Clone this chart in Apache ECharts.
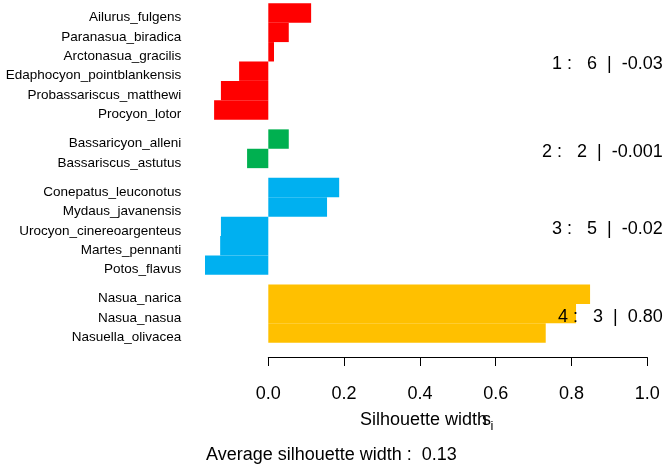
<!DOCTYPE html>
<html><head><meta charset="utf-8">
<script src="https://cdn.jsdelivr.net/npm/echarts/dist/echarts.min.js"></script>
<style>html,body{margin:0;padding:0;background:#fff}#c{width:664px;height:468px}</style>
</head><body><div id="c"></div>
<script>
// ---- data ----
const names = ["Ailurus_fulgens","Paranasua_biradica","Arctonasua_gracilis","Edaphocyon_pointblankensis","Probassariscus_matthewi","Procyon_lotor",
  "Bassaricyon_alleni","Bassariscus_astutus",
  "Conepatus_leuconotus","Mydaus_javanensis","Urocyon_cinereoargenteus","Martes_pennanti","Potos_flavus",
  "Nasua_narica","Nasua_nasua","Nasuella_olivacea"];
const clusterOf = [1,1,1,1,1,1, 2,2, 3,3,3,3,3, 4,4,4];
const silWidths = [0.113,0.054,0.015,-0.077,-0.125,-0.143, 0.054,-0.056, 0.187,0.155,-0.125,-0.127,-0.167, 0.849,0.812,0.732];
const clusterIds = [1,2,3,4];
const clusterSizes = [6,2,5,3];
const clusterAvgLabels = ["-0.03","-0.001","-0.02","0.80"];
const clusterColors = ["#FF0000","#00B050","#00B0F0","#FFC000"];
const xTicks = ["0.0","0.2","0.4","0.6","0.8","1.0"];
const avgSilhouette = "0.13";

const FONT = "'Liberation Sans', Arial, sans-serif";

// bar slot positions: one unit per bar, half-unit gap between clusters
const barData = [];
let prev = null, gapCount = 0;
silWidths.forEach((v, i) => {
  if (prev !== null && clusterOf[i] !== prev) gapCount++;
  prev = clusterOf[i];
  barData.push([v, i + 0.5 * gapCount, clusterOf[i] - 1, names[i]]);
});
const totalSpan = silWidths.length + 0.5 * (clusterIds.length - 1);
const clusterData = clusterIds.map((c, j) => {
  const rows = barData.filter(d => d[2] === j);
  const center = (rows[0][1] + rows[rows.length - 1][1] + 1) / 2;
  return [j, center];
});
const minW = Math.min(0, Math.min(...silWidths));
const plotLeftVal = minW - 0.04 * (1 - minW);

const chart = echarts.init(document.getElementById('c'), null, {renderer: 'canvas'});
chart.setOption({
  animation: false,
  backgroundColor: '#fff',
  grid: {left: 268.3, right: 16.7, top: 3.3, height: 339.4},
  xAxis: {
    type: 'value', min: 0, max: 1, interval: 0.2, position: 'bottom', offset: 14.6,
    axisLine: {show: true, onZero: false, lineStyle: {color: '#000', width: 1}},
    axisTick: {show: true, length: 8.7, lineStyle: {color: '#000', width: 1}},
    axisLabel: {fontSize: 18, color: '#000', fontFamily: FONT, margin: 27.5,
      formatter: v => xTicks[Math.round(v * 5)]},
    splitLine: {show: false}
  },
  yAxis: {type: 'value', min: 0, max: totalSpan, inverse: true, show: false},
  series: [
    {
      type: 'custom', clip: false,
      data: barData,
      renderItem: (params, api) => {
        const v = api.value(0), p = api.value(1), ci = api.value(2);
        const a = api.coord([0, p]), b = api.coord([v, p + 1]);
        const x0 = Math.min(a[0], b[0]), x1 = Math.max(a[0], b[0]);
        const left = api.coord([plotLeftVal, p])[0];
        return {type: 'group', children: [
          {type: 'rect', shape: {x: x0, y: a[1], width: x1 - x0, height: b[1] - a[1]},
           style: {fill: clusterColors[ci]}},
          {type: 'text', x: left - 6, y: (a[1] + b[1]) / 2 + 4.5,
           style: {text: barData[params.dataIndex][3], align: 'right', verticalAlign: 'middle',
                   fontSize: 13.5, fontFamily: FONT, fill: '#000'}}
        ]};
      }
    },
    {
      type: 'custom', clip: false,
      data: clusterData,
      renderItem: (params, api) => {
        const j = api.value(0), c = api.value(1);
        const pt = api.coord([1, c]);
        return {type: 'text', x: pt[0] + 15.5, y: pt[1] + 3,
          style: {text: clusterIds[j] + ' :   ' + clusterSizes[j] + '  |  ' + clusterAvgLabels[j],
                  align: 'right', verticalAlign: 'middle', fontSize: 18, fontFamily: FONT, fill: '#000'}};
      }
    }
  ],
  graphic: [
    {type: 'text', left: 360, top: 420 - 9, style: {text: 'Silhouette width', fontSize: 18, fontFamily: FONT, fill: '#000'}},
    {type: 'text', left: 482, top: 420 - 9, style: {text: 's', fontSize: 18, fontFamily: FONT, fill: '#000'}},
    {type: 'text', left: 490.5, top: 420, style: {text: 'i', fontSize: 13, fontFamily: FONT, fill: '#000'}},
    {type: 'text', left: 206, top: 455 - 9, style: {text: 'Average silhouette width :  ' + avgSilhouette, fontSize: 18, fontFamily: FONT, fill: '#000'}}
  ]
});
</script></body></html>
